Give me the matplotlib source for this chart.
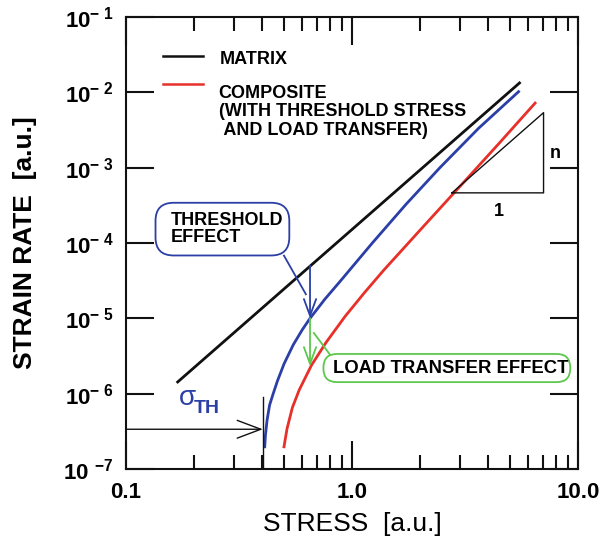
import math
import matplotlib
matplotlib.use("Agg")
import matplotlib.pyplot as plt
from matplotlib.ticker import LogLocator, NullLocator, FixedLocator, FuncFormatter
from matplotlib.patches import FancyBboxPatch

plt.rcParams['font.family'] = ['Liberation Sans', 'DejaVu Sans']
plt.rcParams['mathtext.fontset'] = 'custom'
plt.rcParams['mathtext.rm'] = 'Liberation Sans'
plt.rcParams['mathtext.bf'] = 'Liberation Sans:bold'
plt.rcParams['mathtext.it'] = 'Liberation Sans:italic'

# ---- data ----
matrix_stress = [0.1675, 5.57]
matrix_rate = [1.39e-6, 1.37e-2]

blue_stress = [0.411, 0.414, 0.421, 0.432, 0.448, 0.468, 0.501, 0.550, 0.603, 0.652,
               0.759, 0.891, 1.230, 1.738, 2.449, 3.631, 5.458]
blue_rate = [1.97e-7, 2.82e-7, 4.47e-7, 7.08e-7, 1.0e-6, 1.48e-6, 2.51e-6, 4.47e-6,
             7.08e-6, 1.0e-5, 1.80e-5, 3.16e-5, 1.0e-4, 3.29e-4, 1.0e-3, 3.33e-3, 1.02e-2]

red_stress = [0.50, 0.516, 0.545, 0.584, 0.662, 0.768, 0.934, 1.135, 1.38, 2.04, 3.02,
              4.46, 6.46]
red_rate = [1.97e-7, 3.44e-7, 6.56e-7, 1.12e-6, 2.39e-6, 4.79e-6, 1.07e-5, 2.19e-5,
            4.34e-5, 1.58e-4, 5.74e-4, 2.08e-3, 7.2e-3]

tri_stress = [2.77, 7.04, 7.04, 2.77]
tri_rate = [4.63e-4, 4.63e-4, 5.37e-3, 4.63e-4]

sigma_th = 0.403
sigma_th_arrow_rate = 3.37e-7
sigma_th_line_top = 9.1e-7

arrow_stress = 0.652
threshold_arrow = [5.0e-5, 1.0e-5]
load_arrow = [1.0e-5, 2.3e-6]

x_ticks = [0.1, 1.0, 10.0]
x_ticklabels = ['0.1', '1.0', '10.0']
y_ticks = [1e-7, 1e-6, 1e-5, 1e-4, 1e-3, 1e-2, 1e-1]

legend_labels = ['MATRIX', 'COMPOSITE\n(WITH THRESHOLD STRESS\n AND LOAD TRANSFER)']

BLACK = '#111111'
RED = '#e8302a'
BLUE = '#2b3fa6'
GREEN = '#5cc84c'

fig = plt.figure(figsize=(6.01, 5.51), dpi=100)
ax = fig.add_axes([126/601, (551-469)/551, 452/601, 452/551])
ax.set_xscale('log')
ax.set_yscale('log')
ax.set_xlim(0.1, 10.0)
ax.set_ylim(1e-7, 1e-1)

ax.plot(matrix_stress, matrix_rate, color=BLACK, lw=2.0, solid_capstyle='butt')
ax.plot(blue_stress, blue_rate, color=BLUE, lw=2.0, solid_joinstyle='round')
ax.plot(red_stress, red_rate, color=RED, lw=2.0, solid_joinstyle='round')
ax.plot(tri_stress, tri_rate, color=BLACK, lw=1.0)

# slope triangle labels
ax.text(7.9, 1.56e-3, 'n', fontsize=13, fontweight='bold', ha='center', va='center')
ax.text(4.46, 2.62e-4, '1', fontsize=13, fontweight='bold', ha='center', va='center')

# sigma_TH
ax.plot([sigma_th, sigma_th], [1e-7, sigma_th_line_top], color=BLACK, lw=1.0)
ax.annotate('', xy=(sigma_th, sigma_th_arrow_rate), xytext=(0.1, sigma_th_arrow_rate),
            arrowprops=dict(arrowstyle='->,head_length=0.85,head_width=0.32',
                            color=BLACK, lw=1.0, mutation_scale=20,
                            shrinkA=0, shrinkB=0))
ax.text(0.137, 0.158, 'σ', transform=ax.transAxes, fontsize=20, color=BLUE,
        ha='center', va='center')
ax.text(0.150, 0.134, 'TH', transform=ax.transAxes, fontsize=14, color=BLUE,
        fontweight='bold', ha='left', va='center')

# threshold arrow (blue)
ax.annotate('', xy=(arrow_stress, threshold_arrow[1]), xytext=(arrow_stress, threshold_arrow[0]),
            arrowprops=dict(arrowstyle='->,head_length=0.6,head_width=0.22',
                            color=BLUE, lw=1.3, mutation_scale=20,
                            shrinkA=0, shrinkB=0))
# load transfer arrow (green)
ax.annotate('', xy=(arrow_stress, load_arrow[1]), xytext=(arrow_stress, load_arrow[0]),
            arrowprops=dict(arrowstyle='->,head_length=0.6,head_width=0.22',
                            color=GREEN, lw=1.3, mutation_scale=20,
                            shrinkA=0, shrinkB=0))

# callout boxes
box1 = FancyBboxPatch((0.0653, 0.4724), 0.296, 0.1166, transform=ax.transAxes,
                      boxstyle='round,pad=0,rounding_size=0.04',
                      fc='white', ec=BLUE, lw=1.3)
ax.add_patch(box1)
ax.text(0.099, 0.531, 'THRESHOLD\nEFFECT', transform=ax.transAxes, fontsize=13,
        fontweight='bold', ha='left', va='center', linespacing=1.05)
ax.plot([0.50, 0.625], [6.8e-5, 2.09e-5], color=BLUE, lw=1.3)

box2 = FancyBboxPatch((0.4368, 0.1922), 0.546, 0.0623, transform=ax.transAxes,
                      boxstyle='round,pad=0,rounding_size=0.03',
                      fc='white', ec=GREEN, lw=1.3)
ax.add_patch(box2)
ax.text(0.458, 0.2225, 'LOAD TRANSFER EFFECT', transform=ax.transAxes, fontsize=13.3,
        fontweight='bold', ha='left', va='center')
ax.plot([0.678, 0.799], [6.4e-6, 3.3e-6], color=GREEN, lw=1.3)

# legend drawn manually
ax.plot([0.0823, 0.1713], [0.914, 0.914], transform=ax.transAxes, color=BLACK, lw=1.8)
ax.plot([0.0823, 0.1713], [0.852, 0.852], transform=ax.transAxes, color=RED, lw=1.8)
ax.text(0.207, 0.907, legend_labels[0], transform=ax.transAxes, fontsize=13,
        fontweight='bold', ha='left', va='center')
ax.text(0.205, 0.850, legend_labels[1], transform=ax.transAxes, fontsize=13,
        fontweight='bold', ha='left', va='top', linespacing=1.12)

# axes styling
for s in ax.spines.values():
    s.set_linewidth(1.5)
    s.set_color(BLACK)
ax.xaxis.set_major_locator(FixedLocator(x_ticks))
ax.xaxis.set_minor_locator(LogLocator(base=10, subs=range(2, 10)))
ax.set_xticklabels(x_ticklabels)
ax.yaxis.set_major_locator(FixedLocator(y_ticks))
ax.yaxis.set_minor_locator(NullLocator())

def yfmt(v, pos):
    e = int(round(math.log10(v)))
    if e == -7:
        return r'$\mathbf{10\ ^{-7}}$'
    return r'$\mathbf{10^{-\ %d}}$' % (-e)

ax.yaxis.set_major_formatter(FuncFormatter(yfmt))
ax.tick_params(which='both', direction='in', top=True, right=True, color=BLACK)
ax.tick_params(which='major', length=20, width=1.5, pad=9, labelsize=16)
ax.tick_params(which='minor', length=10, width=1.5)
for lab in ax.get_xticklabels():
    lab.set_fontweight('bold')

ax.set_xlabel('STRESS  [a.u.]', fontsize=19, labelpad=7)
ax.set_ylabel('STRAIN RATE  [a.u.]', fontsize=19, fontweight='bold', labelpad=19)

fig.savefig('out.png', dpi=100)
